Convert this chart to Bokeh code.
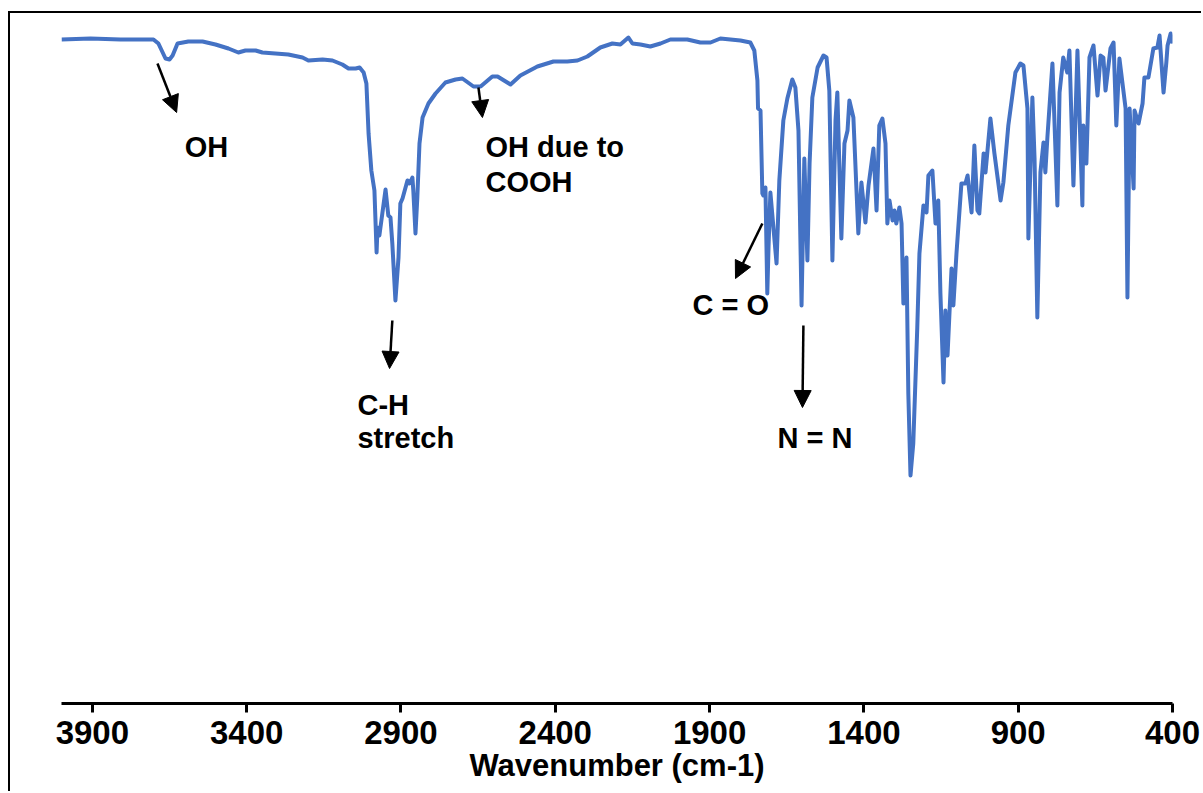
from bokeh.plotting import figure
from bokeh.models import Range1d, FixedTicker, Label, Arrow, NormalHead
from bokeh.embed import file_html
from bokeh.resources import INLINE

# IR spectrum: wavenumber (cm-1) and transmittance (arb. %)
wavenumber = [4000, 3906, 3809, 3702, 3686, 3663, 3650, 3640, 3624, 3589, 3543, 3501, 3459, 3427,
              3404, 3371, 3349, 3265, 3219, 3200, 3154, 3122, 3090, 3070, 3047, 3034, 3021, 3012,
              3005, 2996, 2986, 2979, 2976, 2970, 2950, 2941, 2934, 2928, 2918, 2908, 2902, 2895,
              2879, 2872, 2863, 2860, 2853, 2847, 2840, 2830, 2811, 2788, 2756, 2723, 2701, 2665,
              2642, 2604, 2587, 2545, 2513, 2458, 2406, 2361, 2328, 2296, 2254, 2215, 2189, 2163,
              2150, 2124, 2092, 2059, 2027, 1972, 1930, 1897, 1865, 1800, 1768, 1755, 1745, 1743,
              1735, 1729, 1726, 1719, 1713, 1709, 1703, 1696, 1683, 1674, 1661, 1648, 1632, 1622,
              1612, 1602, 1593, 1583, 1576, 1567, 1550, 1531, 1521, 1512, 1502, 1492, 1486, 1473,
              1463, 1453, 1447, 1434, 1418, 1408, 1395, 1385, 1369, 1359, 1350, 1340, 1330, 1324,
              1317, 1307, 1301, 1295, 1285, 1278, 1272, 1262, 1256, 1249, 1240, 1227, 1220, 1207,
              1197, 1191, 1178, 1168, 1159, 1152, 1142, 1136, 1129, 1116, 1110, 1100, 1084, 1071,
              1064, 1051, 1042, 1032, 1026, 1012, 1006, 990, 977, 957, 948, 932, 909, 893, 883,
              870, 867, 854, 847, 838, 828, 818, 812, 805, 789, 773, 766, 754, 741, 734, 721, 708,
              692, 689, 679, 669, 656, 643, 633, 624, 617, 601, 591, 582, 572, 552, 546, 539, 526,
              523, 510, 497, 491, 478, 462, 449, 442, 429, 420, 416, 406, 400]
transmittance = [66.4, 66.5, 66.4, 66.4, 66.0, 64.5, 64.4, 64.8, 66.0, 66.2, 66.2, 65.9, 65.5, 65.1,
                 65.3, 65.3, 65.1, 64.9, 64.6, 64.3, 64.4, 64.3, 63.9, 63.5, 63.5, 63.6, 63.1, 62.0,
                 57.0, 53.3, 51.3, 45.1, 47.6, 46.8, 51.4, 48.8, 48.6, 46.0, 40.3, 44.6, 50.0, 50.5,
                 52.3, 52.0, 52.6, 51.3, 47.0, 50.6, 56.0, 58.6, 60.0, 61.0, 62.1, 62.4, 62.5, 61.7,
                 61.7, 62.7, 62.7, 61.9, 62.8, 63.7, 64.2, 64.2, 64.3, 64.7, 65.6, 66.0, 65.9, 66.6,
                 66.0, 65.9, 65.7, 66.0, 66.4, 66.4, 66.1, 66.1, 66.5, 66.3, 66.1, 65.3, 62.3, 59.5,
                 59.3, 51.0, 50.8, 51.6, 41.0, 45.6, 51.1, 48.6, 44.0, 52.3, 58.3, 60.5, 62.4, 61.6,
                 57.3, 39.8, 54.5, 44.3, 54.0, 60.6, 63.6, 64.8, 64.6, 61.3, 44.3, 58.3, 61.1, 46.5,
                 56.0, 57.3, 60.3, 58.6, 47.0, 52.1, 48.1, 51.8, 55.5, 49.3, 57.8, 58.5, 56.0, 48.0,
                 50.3, 48.3, 49.3, 48.0, 49.6, 48.0, 40.0, 44.6, 31.0, 22.8, 26.0, 37.6, 45.0, 49.8,
                 49.1, 52.8, 53.3, 48.0, 50.3, 41.0, 32.1, 39.3, 34.8, 43.5, 39.8, 45.0, 52.0, 52.0,
                 52.8, 49.1, 55.8, 49.3, 49.0, 55.0, 53.1, 58.5, 55.0, 50.3, 52.1, 57.8, 63.1, 64.0, 63.8,
                 59.5, 46.5, 60.6, 54.5, 38.6, 53.1, 56.1, 53.1, 56.8, 64.0, 49.8, 61.1, 64.6, 63.1, 65.3, 51.8, 65.3,
                 49.8, 57.8, 54.0, 64.6, 65.8, 60.8, 64.8, 64.6, 61.3, 65.5, 66.1, 57.8, 64.5, 59.5, 40.6, 59.5, 51.5,
                 59.3, 58.0, 60.0, 62.6, 62.6, 65.5, 65.6, 66.8, 61.1, 64.1, 65.8, 67.0, 66.0]

tick_values = [3900, 3400, 2900, 2400, 1900, 1400, 900, 400]

# annotations: (text, x, y baseline)
annotation_texts = ["OH", "OH due to", "COOH", "C-H", "stretch", "C = O", "N = N"]
annotation_x = [3601, 2626, 2626, 3041, 3041, 1955, 1680]
annotation_y = [55.7, 55.7, 52.2, 29.9, 26.6, 39.9, 26.6]

# arrows: start (x, y) -> end (x, y)
arrow_x_start = [3689, 2649, 2928, 1729, 1596]
arrow_y_start = [64.0, 61.6, 38.3, 48.0, 37.8]
arrow_x_end = [3627, 2636, 2937, 1816, 1599]
arrow_y_end = [59.1, 58.6, 33.5, 42.5, 29.6]

FONT = "Liberation Sans"

p = figure(width=1193, height=780, output_backend="svg", toolbar_location=None,
           x_range=Range1d(4000, 400), y_range=Range1d(0, 68.8),
           min_border_left=51, min_border_right=31, min_border_top=2, min_border_bottom=90,
           y_axis_location=None)
p.styles = {"margin-left": "8px", "margin-top": "11px",
            "border-left": "2px solid black", "border-top": "2px solid black"}
p.outline_line_color = None
p.grid.visible = False
p.background_fill_color = "white"
p.border_fill_color = "white"

p.line(wavenumber, transmittance, line_color="#4472C4", line_width=4, line_join="round")

ax = p.xaxis[0]
ax.ticker = FixedTicker(ticks=tick_values)
ax.axis_line_width = 3
ax.axis_line_color = "black"
ax.major_tick_line_width = 3
ax.major_tick_line_color = "black"
ax.major_tick_in = 0
ax.major_tick_out = 9
ax.minor_tick_line_color = None
ax.major_label_text_font = FONT
ax.major_label_text_font_style = "bold"
ax.major_label_text_font_size = "33px"
ax.major_label_text_color = "black"
ax.major_label_standoff = 8
ax.axis_label = "Wavenumber (cm-1)"
ax.axis_label_text_font = FONT
ax.axis_label_text_font_style = "bold"
ax.axis_label_text_font_size = "31px"
ax.axis_label_text_color = "black"
ax.axis_label_standoff = 1

for t, x, y in zip(annotation_texts, annotation_x, annotation_y):
    p.add_layout(Label(x=x, y=y, text=t, text_font=FONT, text_font_style="bold",
                       text_font_size="29px", text_color="black", text_baseline="alphabetic",
                       text_align="left"))

for xs, ys, xe, ye in zip(arrow_x_start, arrow_y_start, arrow_x_end, arrow_y_end):
    p.add_layout(Arrow(x_start=xs, y_start=ys, x_end=xe, y_end=ye, line_color="black", line_width=2.5,
                       end=NormalHead(size=17, fill_color="black", line_color="black", line_width=1)))

open("out.html", "w").write(file_html(p, INLINE))
